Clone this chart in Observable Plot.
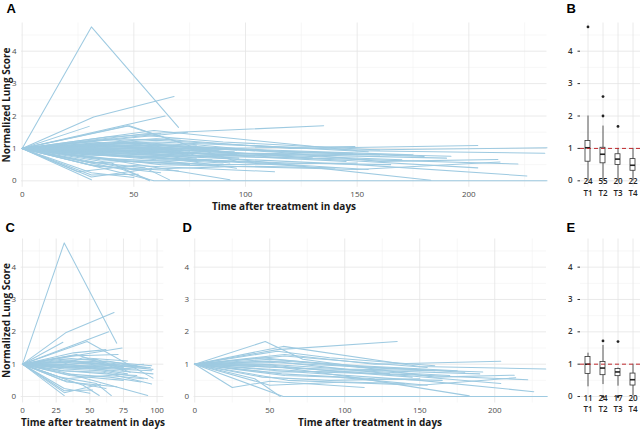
<!DOCTYPE html>
<html>
<head>
<meta charset="utf-8">
<script src="https://cdn.jsdelivr.net/npm/d3@7"></script>
<script src="https://cdn.jsdelivr.net/npm/@observablehq/plot@0.6"></script>
<style>
  html, body { margin: 0; padding: 0; background: #fff; overflow: hidden; }
  #fig { position: relative; width: 640px; height: 429px; font-family: "Open Sans", sans-serif; }
  #fig svg { position: absolute; }
  .ttl { font-family: "Open Sans", sans-serif; font-weight: 700; font-size: 10px; fill: #1a1a1a; }
  .tag { font-family: "Liberation Sans", Arial, sans-serif; font-weight: 700; font-size: 13px; fill: #000; }
</style>
</head>
<body>
<div id="fig"></div>
<script>
// Lung score trajectories per patient: [day, normalized score] after baseline (day 0, score 1).
// Patients with follow-up within roughly the first 100 days.
const cohortShort = [
  [[31, 4.75], [70, 1.65]],
  [[32, 1.97], [68, 2.6]],
  [[64, 2.0]],
  [[30, 1.68]],
  [[48, 1.7], [97, 0.57]],
  [[74, 1.5]],
  [[38, 1.35], [62, 1.45]],
  [[35, 1.25], [71, 1.3]],
  [[30, 1.2], [96, 0.95]],
  [[33, 1.1], [97, 0.84]],
  [[28, 1.05], [63, 1.1], [92, 0.9]],
  [[30, 0.95], [66, 0.85], [96, 0.8]],
  [[32, 0.9], [70, 0.95]],
  [[31, 0.85], [58, 0.8], [93, 0.55]],
  [[29, 0.8], [60, 0.75], [96, 0.39]],
  [[30, 0.75], [93, 0.03]],
  [[32, 0.7], [65, 0.6], [88, 0.45]],
  [[35, 0.65], [75, 0.5]],
  [[28, 0.6], [55, 0.4], [66, 0.03]],
  [[31, 0.03]],
  [[31, 0.18], [52, 0.2]],
  [[31, 0.12], [58, 0.38]],
  [[45, 0.35], [57, 0.03]],
  [[30, 0.5], [62, 0.25]],
  [[34, 1.0], [60, 1.05], [85, 0.95]],
  [[36, 0.98], [78, 0.7]],
  [[30, 1.12], [55, 1.15], [80, 0.75]],
  [[40, 1.3], [75, 0.8]],
  [[29, 0.9], [50, 0.95], [72, 1.0]],
  [[31, 0.55], [64, 0.65], [90, 0.55]],
  [[33, 0.45], [70, 0.3]],
  [[31, 0.25], [50, 0.1]],
  [[30, 1.0], [62, 0.9], [84, 0.85]],
  [[27, 0.95], [45, 1.2], [78, 1.1]],
  [[30, 1.05], [65, 0.95], [95, 0.9]],
  [[32, 0.95], [60, 0.88], [90, 1.0]],
  [[28, 1.0], [58, 0.92], [80, 0.85]],
  [[33, 0.92], [70, 0.8], [97, 0.7]],
  [[30, 0.88], [55, 0.85], [75, 0.9]],
  [[35, 1.08], [68, 1.0]],
  [[31, 0.8], [62, 0.7], [85, 0.65]],
  [[29, 1.15], [60, 1.0], [88, 0.92]]
];

// Patients with long-term follow-up.
const cohortLong = [
  [[47, 1.7], [72, 1.15], [160, 0.6], [213, 0.66]],
  [[59, 1.55], [150, 0.93], [234, 0.85]],
  [[55, 1.45], [135, 1.7]],
  [[25, 0.28], [50, 0.47], [113, 0.28]],
  [[59, 0], [235, 0]],
  [[40, 0.55], [57, 0]],
  [[60, 1.3], [120, 1.0], [204, 1.09]],
  [[45, 1.2], [110, 0.9], [192, 0.76]],
  [[50, 1.1], [130, 0.7], [222, 0.52]],
  [[60, 0.9], [140, 0.65], [204, 0.4]],
  [[55, 0.8], [150, 0.5], [226, 0.15]],
  [[48, 1.0], [100, 0.85], [160, 0.8]],
  [[50, 0.95], [105, 0.6], [183, 0.02]],
  [[58, 0.7], [120, 0.55], [165, 0.5]],
  [[45, 0.6], [90, 0.5], [150, 0.55]],
  [[50, 0.35], [100, 0.45], [140, 0.4]],
  [[60, 1.25], [100, 1.1], [155, 0.9]],
  [[52, 1.05], [95, 0.95], [148, 0.85]],
  [[47, 0.85], [85, 0.75], [130, 0.7]],
  [[55, 1.4], [90, 1.2], [160, 0.95]],
  [[50, 0.75], [110, 0.8], [170, 0.65]],
  [[60, 0.65], [95, 0.6], [155, 0.35]],
  [[62, 0.5], [150, 0.35], [214, 0.58]],
  [[50, 1.15], [110, 0.95], [175, 0.8]],
  [[55, 0.9], [125, 0.8], [190, 0.7]],
  [[45, 1.0], [100, 0.75], [145, 0.6]],
  [[58, 1.1], [120, 0.9], [180, 0.75]]
];

// Patients shown only in the overall panel.
const cohortOther = [
  [[60, 1.2], [150, 0.95], [235, 1.02]],
  [[80, 1.0], [149, 1.06]],
  [[55, 0.9], [120, 0.75]],
  [[65, 0.7], [125, 0.45]]
];

// Box plot summaries by time point.
const timepoints = ["T1", "T2", "T3", "T4"];
const countsAll = [24, 55, 20, 22];
const lowAll = [0, 0, 0, 0];
const q1All = [0.59, 0.54, 0.49, 0.31];
const medianAll = [1.02, 0.82, 0.67, 0.48];
const q3All = [1.23, 1.02, 0.82, 0.67];
const highAll = [2.0, 1.69, 1.0, 1.0];
const outliersAll = [["T1", 4.75], ["T2", 2.0], ["T2", 2.6], ["T3", 1.68]];

const countsLong = [11, 24, 17, 20];
const lowLong = [0.3, 0.37, 0.32, 0.02];
const q1Long = [0.7, 0.66, 0.63, 0.34];
const medianLong = [1.0, 0.88, 0.76, 0.52];
const q3Long = [1.22, 1.07, 0.85, 0.71];
const highLong = [1.34, 1.58, 0.88, 1.0];
const outliersLong = [["T2", 1.72], ["T2", 0], ["T3", 1.7], ["T3", 0]];

// Axis ticks
const yMajor = [0, 1, 2, 3, 4];
const yMinor = [0.5, 1.5, 2.5, 3.5, 4.5];
const xMajorLong = [0, 50, 100, 150, 200];
const xMinorLong = [25, 75, 125, 175, 225];
const xMajorShort = [0, 25, 50, 75, 100];
const xMinorShort = [12.5, 37.5, 62.5, 87.5];

const lineColor = "#9ecae1";
const majorGrid = {stroke: "#e4e4e4", strokeOpacity: 1, strokeWidth: 0.8};
const minorGrid = {stroke: "#f1f1f1", strokeOpacity: 1, strokeWidth: 0.6};
const yDomain = [-0.2, 4.87];

const fig = document.getElementById("fig");

function toRows(list, tag) {
  return list.flatMap((pts, i) => [[0, 1], ...pts].map(([day, score]) => ({id: tag + i, day, score})));
}
const rowsShort = toRows(cohortShort, "s");
const rowsLong = toRows(cohortLong, "l");
const rowsAll = [...rowsShort, ...rowsLong, ...toRows(cohortOther, "o")];

function place(svg, left, top) {
  svg.style.left = left + "px";
  svg.style.top = top + "px";
  svg.style.overflow = "visible";
  fig.appendChild(svg);
}

function spaghetti({rows, left, top, width, height, ml, mr, mt, mb, xDomain, xMajor, xMinor}) {
  const svg = Plot.plot({
    width, height,
    marginLeft: ml, marginRight: mr, marginTop: mt, marginBottom: mb,
    x: {domain: xDomain},
    y: {domain: yDomain},
    style: {background: "none", fontFamily: "Open Sans", fontSize: "8px"},
    marks: [
      Plot.gridX(xMinor, minorGrid),
      Plot.gridY(yMinor, minorGrid),
      Plot.gridX(xMajor, majorGrid),
      Plot.gridY(yMajor, majorGrid),
      Plot.axisX(xMajor, {tickSize: 0, tickPadding: 4, fill: "#4d4d4d", label: null}),
      Plot.axisY(yMajor, {tickSize: 0, tickPadding: 5, fill: "#4d4d4d", label: null}),
      Plot.line(rows, {x: "day", y: "score", z: "id", stroke: lineColor, strokeWidth: 1.05})
    ]
  });
  place(svg, left, top);
}

function boxes({left, top, height, mt, mb, counts, low, q1, median, q3, high, outliers, dyCount, dyLabel}) {
  const rows = timepoints.map((t, i) => ({t, n: counts[i], lo: low[i], q1: q1[i], med: median[i], q3: q3[i], hi: high[i]}));
  const pts = outliers.map(([t, v]) => ({t, v}));
  const svg = Plot.plot({
    width: 92, height,
    marginLeft: 30, marginRight: 2, marginTop: mt, marginBottom: mb,
    x: {type: "band", domain: timepoints, paddingInner: 0.64, paddingOuter: 0.22, axis: null},
    y: {domain: yDomain},
    style: {background: "none", fontFamily: "Open Sans", fontSize: "8px"},
    marks: [
      Plot.gridY(yMinor, minorGrid),
      Plot.gridY(yMajor, majorGrid),
      Plot.gridX(timepoints, majorGrid),
      Plot.axisY(yMajor, {tickSize: 2.5, tickPadding: 5.5, stroke: "#333", fill: "#333", fontWeight: 600, label: null}),
      Plot.ruleX(rows, {x: "t", y1: "lo", y2: "hi", stroke: "#333", strokeWidth: 0.8}),
      Plot.barY(rows, {x: "t", y1: "q1", y2: "q3", fill: "white", stroke: "#333", strokeWidth: 0.8}),
      Plot.tickY(rows, {x: "t", y: "med", stroke: "#222", strokeWidth: 1.6}),
      Plot.dot(pts, {x: "t", y: "v", r: 1.4, fill: "#222", stroke: null}),
      Plot.ruleY([1], {stroke: "#c0282d", strokeDasharray: "4,3", strokeWidth: 1}),
      Plot.text(rows, {x: "t", text: "n", frameAnchor: "bottom", dy: dyCount, fill: "#222", fontWeight: 600}),
      Plot.text(rows, {x: "t", text: "t", frameAnchor: "bottom", dy: dyLabel, fill: "#222", fontWeight: 600})
    ]
  });
  place(svg, left, top);
}

// A: all patients
spaghetti({rows: rowsAll, left: 0, top: 0, width: 550, height: 215,
  ml: 21, mr: 3.5, mt: 22.5, mb: 28.2, xDomain: [-0.3, 235], xMajor: xMajorLong, xMinor: xMinorLong});
// B
boxes({left: 550, top: 0, height: 215, mt: 22.5, mb: 28.2,
  counts: countsAll, low: lowAll, q1: q1All, median: medianAll, q3: q3All, high: highAll,
  outliers: outliersAll, dyCount: -3.8, dyLabel: 8.9});
// C: short follow-up
spaghetti({rows: rowsShort, left: 0, top: 215, width: 172, height: 214,
  ml: 20.7, mr: 8.7, mt: 23.5, mb: 26.5, xDomain: [-1, 105], xMajor: xMajorShort, xMinor: xMinorShort});
// D: long follow-up
spaghetti({rows: rowsLong, left: 172, top: 215, width: 378, height: 214,
  ml: 21.5, mr: 4, mt: 23.5, mb: 26.5, xDomain: [-0.5, 234.5], xMajor: xMajorLong, xMinor: xMinorLong});
// E
boxes({left: 550, top: 215, height: 214, mt: 23.5, mb: 26.5,
  counts: countsLong, low: lowLong, q1: q1Long, median: medianLong, q3: q3Long, high: highLong,
  outliers: outliersLong, dyCount: -1.9, dyLabel: 8.8});

// Panel tags and axis titles
const ns = "http://www.w3.org/2000/svg";
const overlay = document.createElementNS(ns, "svg");
overlay.setAttribute("width", 640);
overlay.setAttribute("height", 429);
overlay.style.left = "0px";
overlay.style.top = "0px";
overlay.style.pointerEvents = "none";
function addText(cls, str, x, y, opts = {}) {
  const t = document.createElementNS(ns, "text");
  t.setAttribute("class", cls);
  t.setAttribute("x", x);
  t.setAttribute("y", y);
  if (opts.anchor) t.setAttribute("text-anchor", opts.anchor);
  if (opts.rotate) t.setAttribute("transform", `rotate(-90 ${x} ${y})`);
  t.textContent = str;
  overlay.appendChild(t);
}
addText("tag", "A", 6.5, 12.5);
addText("tag", "B", 566.5, 12.5);
addText("tag", "C", 5.5, 232);
addText("tag", "D", 182.5, 232);
addText("tag", "E", 566.5, 232);
addText("ttl", "Time after treatment in days", 284, 210, {anchor: "middle"});
addText("ttl", "Time after treatment in days", 93, 425.5, {anchor: "middle"});
addText("ttl", "Time after treatment in days", 370, 425.5, {anchor: "middle"});
addText("ttl", "Normalized Lung Score", 10, 105, {anchor: "middle", rotate: true});
addText("ttl", "Normalized Lung Score", 10, 320.5, {anchor: "middle", rotate: true});
fig.appendChild(overlay);
</script>
</body>
</html>
